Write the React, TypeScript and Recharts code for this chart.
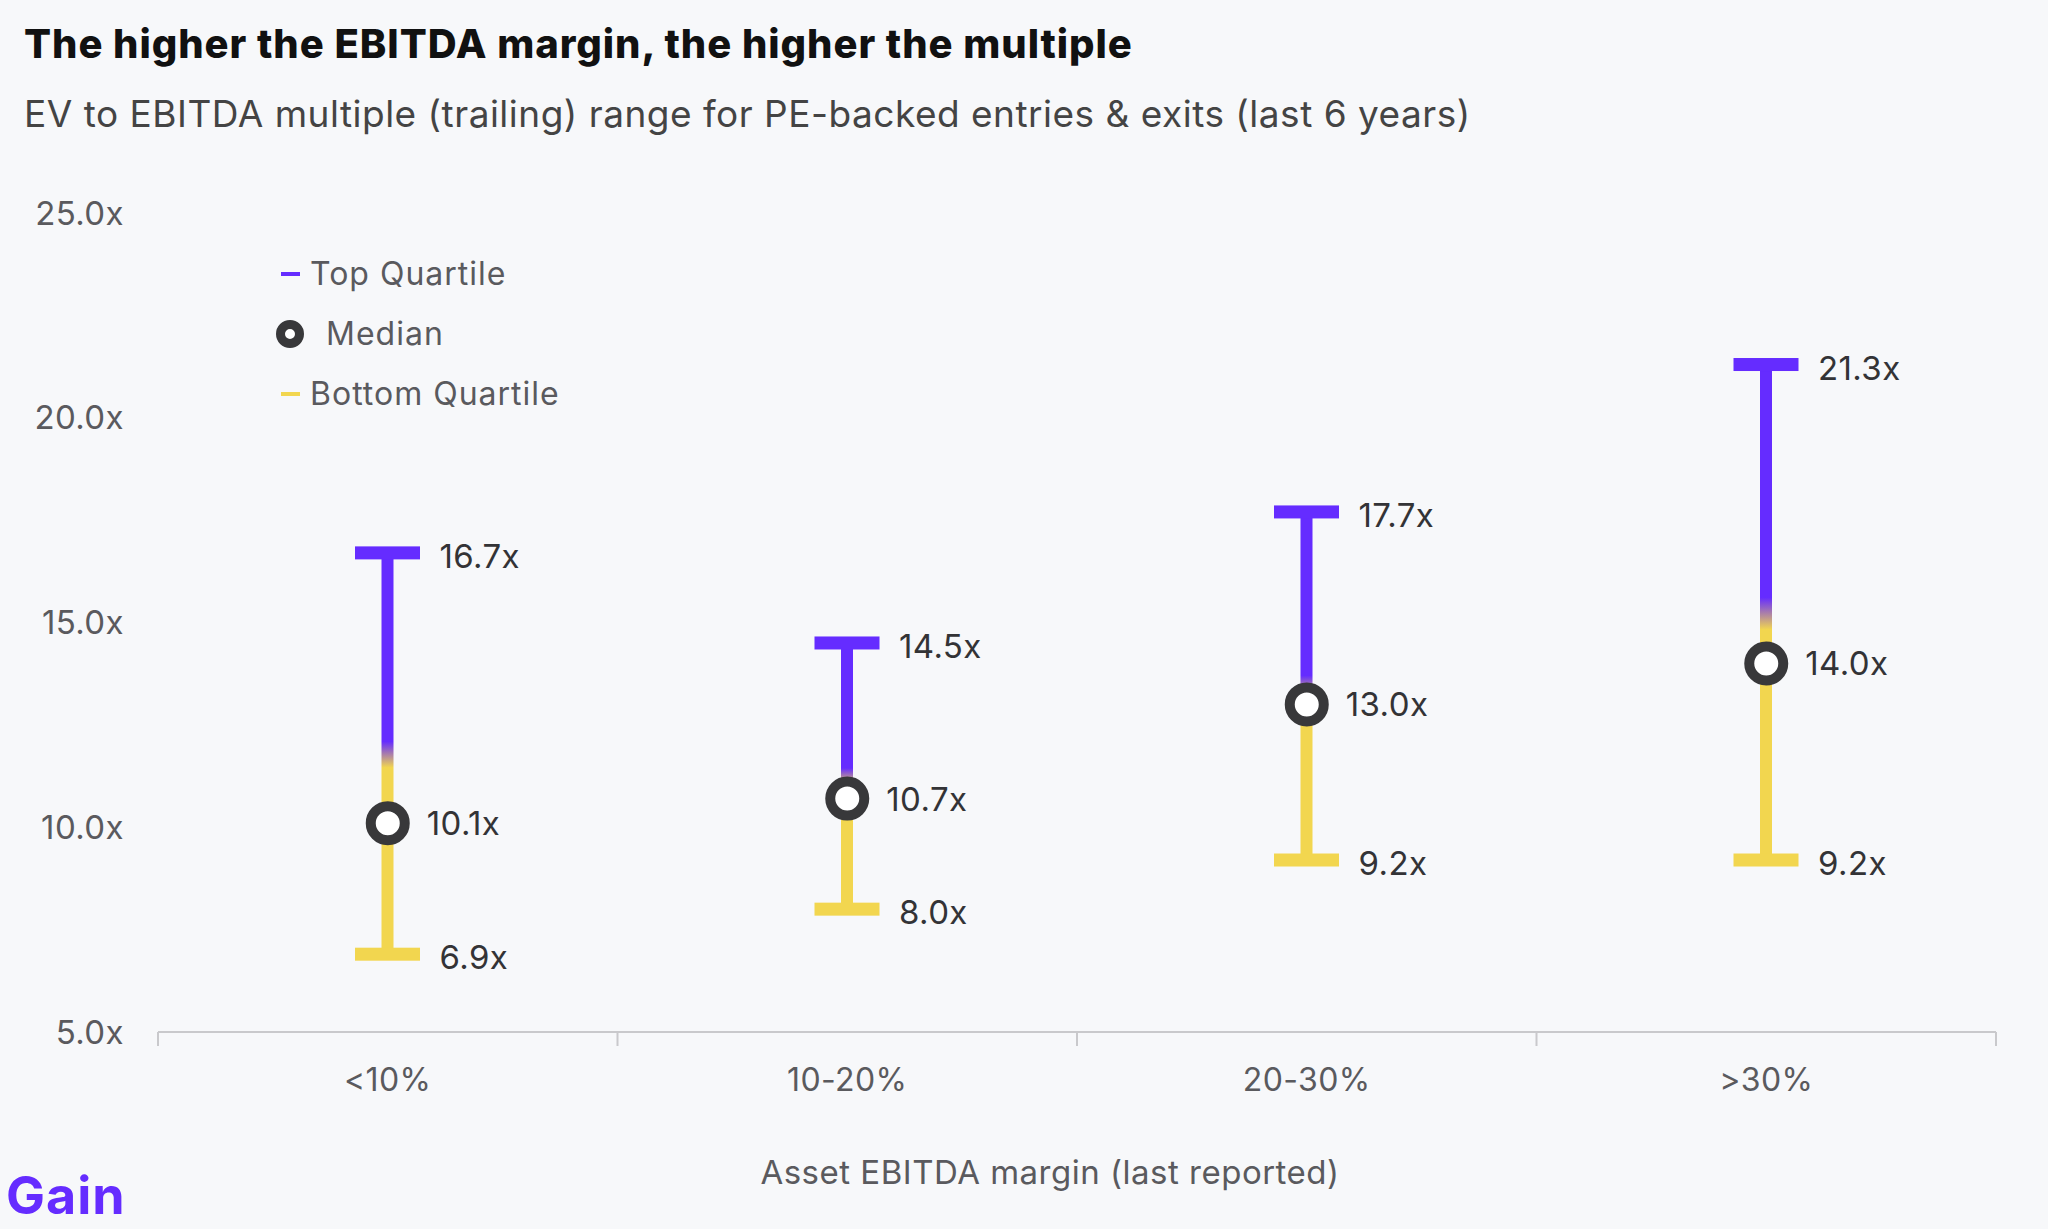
import React from 'react';
import { ComposedChart, Bar, Scatter, XAxis, YAxis, Legend } from 'recharts';

const categories = ['<10%', '10-20%', '20-30%', '>30%'];
const topQuartile = [16.7, 14.5, 17.7, 21.3];
const medianValues = [10.1, 10.7, 13.0, 14.0];
const bottomQuartile = [6.9, 8.0, 9.2, 9.2];
const yTicks = [5, 10, 15, 20, 25];

const data = categories.map((category, i) => ({
  category,
  range: [bottomQuartile[i], topQuartile[i]],
  top: topQuartile[i],
  median: medianValues[i],
  bottom: bottomQuartile[i],
}));

const W = 2048;
const H = 1229;
const PLOT_LEFT = 158;
const PLOT_RIGHT = 1996;
const PLOT_TOP = 213;
const PLOT_BOTTOM = 1032;
const X_AXIS_H = 60;
const Y_AXIS_W = 120;
const HALF_BAND = (PLOT_RIGHT - PLOT_LEFT) / categories.length / 2;

const PURPLE = '#652CFF';
const YELLOW = '#F2D64F';
const DARK = '#38383A';
const AXIS_GREY = '#C9C9CC';
const TEXT_GREY = '#5A5A5E';
const LABEL_DARK = '#333336';
const FONT = 'Inter, "Noto Sans", sans-serif';

const fmt = (v: number) => `${v.toFixed(1)}x`;

const labelStyle = { letterSpacing: 0.4 };

const RangeShape = (props: any) => {
  const { x, y, width, height, payload } = props;
  const cx = x + width / 2;
  const top = Math.min(y, y + height);
  const bottom = Math.max(y, y + height);
  const stem = 12;
  const capH = 13;
  return (
    <g>
      <rect x={cx - stem / 2} y={top} width={stem} height={bottom - top} fill="url(#stemGradient)" />
      <rect x={x} y={top - capH / 2} width={width} height={capH} fill={PURPLE} />
      <rect x={x} y={bottom - capH / 2} width={width} height={capH} fill={YELLOW} />
      <text x={cx + 52} y={top} dy={3} dominantBaseline="central" fontSize={33} fill={LABEL_DARK} fontFamily={FONT} style={labelStyle}>
        {fmt(payload.top)}
      </text>
      <text x={cx + 52} y={bottom} dy={3} dominantBaseline="central" fontSize={33} fill={LABEL_DARK} fontFamily={FONT} style={labelStyle}>
        {fmt(payload.bottom)}
      </text>
    </g>
  );
};

const MedianShape = (props: any) => {
  const { cx, cy, payload } = props;
  return (
    <g>
      <circle cx={cx} cy={cy} r={17} fill="#FFFFFF" stroke={DARK} strokeWidth={10} />
      <text x={cx + 39} y={cy} dominantBaseline="central" fontSize={33} fill={LABEL_DARK} fontFamily={FONT} style={labelStyle}>
        {fmt(payload.median)}
      </text>
    </g>
  );
};

const CategoryTick = (props: any) => {
  const { x, y, payload, index } = props;
  return (
    <g>
      <line x1={x - HALF_BAND} x2={x - HALF_BAND} y1={y} y2={y + 14} stroke={AXIS_GREY} strokeWidth={2} />
      {index === categories.length - 1 && (
        <line x1={x + HALF_BAND} x2={x + HALF_BAND} y1={y} y2={y + 14} stroke={AXIS_GREY} strokeWidth={2} />
      )}
      <text x={x} y={y + 47} textAnchor="middle" dominantBaseline="central" fontSize={32} fill={TEXT_GREY} fontFamily={FONT} style={labelStyle}>
        {payload.value}
      </text>
    </g>
  );
};

const legendItems = [
  { label: 'Top Quartile', kind: 'dash', color: PURPLE },
  { label: 'Median', kind: 'ring', color: DARK },
  { label: 'Bottom Quartile', kind: 'dash', color: YELLOW },
];

const LegendContent = () => (
  <div style={{ fontFamily: FONT }}>
    {legendItems.map((it) => (
      <div key={it.label} style={{ display: 'flex', alignItems: 'center', height: 60 }}>
        {it.kind === 'dash' ? (
          <svg width={19} height={4} style={{ marginLeft: 5, marginRight: 10, display: 'block' }}>
            <rect x={0} y={0} width={19} height={4} fill={it.color} />
          </svg>
        ) : (
          <svg width={28} height={28} style={{ marginRight: 22, display: 'block' }}>
            <circle cx={14} cy={14} r={9.5} fill="#FFFFFF" stroke={it.color} strokeWidth={9} />
          </svg>
        )}
        <span style={{ fontSize: 32, color: TEXT_GREY, lineHeight: 1, letterSpacing: 1.0, whiteSpace: 'nowrap' }}>{it.label}</span>
      </div>
    ))}
  </div>
);

export default function App() {
  return (
    <div
      style={{
        position: 'absolute',
        left: 0,
        top: 0,
        width: W,
        height: H,
        background: '#F7F8FA',
        fontFamily: FONT,
        overflow: 'hidden',
      }}
    >
      <div style={{ position: 'absolute', left: 24, top: 24, fontSize: 40, fontWeight: 800, color: '#111', lineHeight: '40px', letterSpacing: 0.95, whiteSpace: 'nowrap' }}>
        The higher the EBITDA margin, the higher the multiple
      </div>
      <div style={{ position: 'absolute', left: 24, top: 94, fontSize: 37, color: '#444', lineHeight: '40px', letterSpacing: 0.5, whiteSpace: 'nowrap' }}>
        EV to EBITDA multiple (trailing) range for PE-backed entries &amp; exits (last 6 years)
      </div>

      <div style={{ position: 'absolute', left: 0, top: 0 }}>
        <ComposedChart
          width={W}
          height={H}
          data={data}
          margin={{ top: PLOT_TOP, right: W - PLOT_RIGHT, left: PLOT_LEFT - Y_AXIS_W, bottom: H - PLOT_BOTTOM - X_AXIS_H }}
        >
          <defs>
            <linearGradient id="stemGradient" x1="0" y1="0" x2="0" y2="1">
              <stop offset="0" stopColor={PURPLE} />
              <stop offset="0.47" stopColor={PURPLE} />
              <stop offset="0.535" stopColor={YELLOW} />
              <stop offset="1" stopColor={YELLOW} />
            </linearGradient>
          </defs>
          <XAxis
            dataKey="category"
            type="category"
            height={X_AXIS_H}
            interval={0}
            tickLine={false}
            tickSize={0}
            tickMargin={0}
            axisLine={{ stroke: AXIS_GREY, strokeWidth: 2 }}
            tick={<CategoryTick />}
          />
          <YAxis
            type="number"
            domain={[5, 25]}
            ticks={yTicks}
            width={Y_AXIS_W}
            axisLine={false}
            tickLine={false}
            tickSize={0}
            tickMargin={34}
            tickFormatter={fmt}
            tick={{ fontSize: 33, fill: TEXT_GREY, fontFamily: FONT, style: { letterSpacing: 0.4 } }}
          />
          <Legend
            layout="vertical"
            align="center"
            verticalAlign="middle"
            content={<LegendContent />}
            wrapperStyle={{ top: 244, left: 276, width: 340, height: 180 }}
          />
          <Bar dataKey="range" name="Range" barSize={65} shape={<RangeShape />} isAnimationActive={false} />
          <Scatter dataKey="median" name="Median" shape={<MedianShape />} isAnimationActive={false} />
        </ComposedChart>
      </div>

      <div style={{ position: 'absolute', left: 1050, top: 1172, transform: 'translate(-50%, -50%)', fontSize: 33, color: TEXT_GREY, whiteSpace: 'nowrap', lineHeight: 1, letterSpacing: 0.5 }}>
        Asset EBITDA margin (last reported)
      </div>
      <div style={{ position: 'absolute', left: 6, top: 1170, fontSize: 52, fontWeight: 700, color: PURPLE, lineHeight: '52px', letterSpacing: 1 }}>
        Gain
      </div>
    </div>
  );
}
